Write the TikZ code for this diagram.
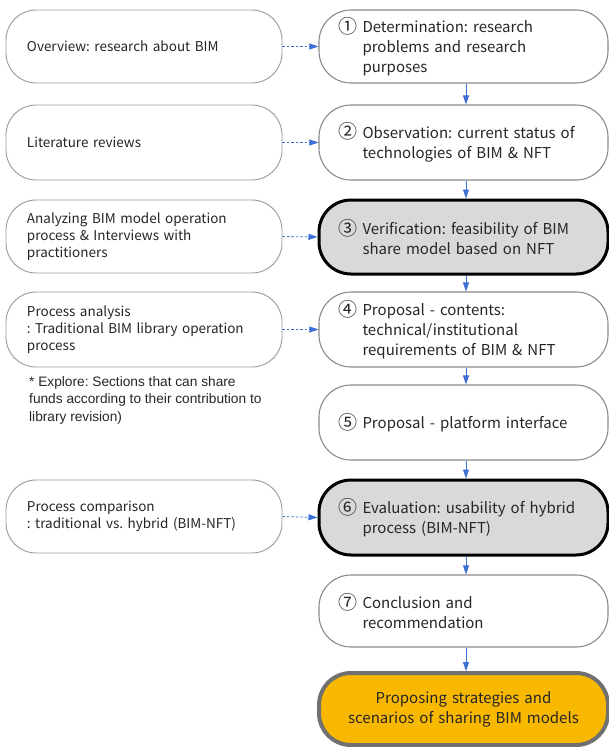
\documentclass[tikz,border=0pt]{standalone}
\usepackage{fontspec}
\setmainfont{Noto Sans CJK KR}
\newfontfamily\notefont{Liberation Sans}
\usetikzlibrary{arrows.meta}

\definecolor{linkblue}{HTML}{3D70D6}
\definecolor{boxgray}{HTML}{9A9A9A}
\definecolor{stepgray}{HTML}{8A8A8A}
\definecolor{keygray}{HTML}{D9D9D9}
\definecolor{gold}{HTML}{F9B800}
\definecolor{goalborder}{HTML}{707070}
\definecolor{textdark}{HTML}{262626}

% a numbered step: circled digit, then the text with its continuation lines aligned
\newcommand{\numstep}[2]{%
  \makebox[24pt][l]{\raisebox{-0.5pt}{\fontsize{19}{20}\selectfont #1}}%
  \parbox[t]{222pt}{\raggedright #2}}

\begin{document}
\frenchspacing
\begin{tikzpicture}[x=1pt,y=-1pt,
  methodbox/.style={draw=boxgray, line width=0.9pt, rounded corners=30pt,
    minimum height=73pt, text width=234pt, inner xsep=21pt, align=left,
    text=textdark, font=\fontsize{13.5}{17}\selectfont},
  stepbox/.style={draw=stepgray, line width=1.1pt, rounded corners=32pt,
    minimum height=75pt, text width=250pt, inner xsep=19.5pt, align=left,
    text=textdark, font=\fontsize{15}{20}\selectfont},
  keystep/.style={stepbox, draw=black, line width=3pt, fill=keygray},
  goalbox/.style={stepbox, draw=goalborder, line width=4pt, fill=gold,
    align=center, minimum height=72pt},
  flowdown/.style={draw=linkblue, line width=0.8pt,
    -{Triangle[length=9pt,width=6pt]}},
  feed/.style={draw=linkblue, line width=0.8pt, dash pattern=on 2.5pt off 2pt,
    -{Triangle[length=9pt,width=6pt]}}
]
\useasboundingbox (0,0) rectangle (609,747);
\fill[white] (0,0) rectangle (609,747);

% methods column
\node[methodbox] (m1) at (144,46.5) {Overview: research about BIM};
\node[methodbox, minimum height=75pt] (m2) at (144,142.5) {Literature reviews};
\node[methodbox] (m3) at (144,236.5) {Analyzing BIM model operation\\process \& Interviews with\\practitioners};
\node[methodbox, minimum height=75pt] (m4) at (144,329.5) {Process analysis\\: Traditional BIM library operation\\process};
\node[methodbox] (m6) at (144,516.5) {Process comparison\\: traditional vs. hybrid (BIM-NFT)};

\node[anchor=north west, inner sep=0pt, align=left, text=textdark,
  font=\notefont\fontsize{13.7}{17.5}\selectfont] (note) at (29,376)
  {* Explore: Sections that can share\\funds according to their contribution to\\library revision)};

% research steps column
\node[stepbox, minimum height=73pt] (s1) at (463.5,46.5) {\numstep{①}{Determination: research\\problems and research\\purposes}};
\node[stepbox] (s2) at (463.5,142.5) {\numstep{②}{Observation: current status of\\technologies of BIM \& NFT}};
\node[keystep, minimum height=74pt] (s3) at (463.5,237) {\numstep{③}{Verification: feasibility of BIM\\share model based on NFT}};
\node[stepbox] (s4) at (463.5,329.5) {\numstep{④}{Proposal - contents:\\technical/institutional\\requirements of BIM \& NFT}};
\node[stepbox] (s5) at (463.5,422.5) {\numstep{⑤}{Proposal - platform interface}};
\node[keystep] (s6) at (463.5,517.5) {\numstep{⑥}{Evaluation: usability of hybrid\\process (BIM-NFT)}};
\node[stepbox, minimum height=72pt] (s7) at (463.5,611) {\numstep{⑦}{Conclusion and\\recommendation}};
\node[goalbox] (goal) at (463.5,709) {Proposing strategies and\\scenarios of sharing BIM models};

% links from methods to steps
\draw[feed] (m1.east) -- (s1.west);
\draw[feed] (m2.east) -- (s2.west);
\draw[feed] (m3.east) -- (s3.west);
\draw[feed] (m4.east) -- (s4.west);
\draw[feed] (m6.east) -- (s6.west);

% sequence of steps
\draw[flowdown] ([xshift=2.5pt]s1.south) -- ([xshift=2.5pt]s2.north);
\draw[flowdown] ([xshift=2.5pt]s2.south) -- ([xshift=2.5pt]s3.north);
\draw[flowdown] ([xshift=2.5pt]s3.south) -- ([xshift=2.5pt]s4.north);
\draw[flowdown] ([xshift=2.5pt]s4.south) -- ([xshift=2.5pt]s5.north);
\draw[flowdown] ([xshift=2.5pt]s5.south) -- ([xshift=2.5pt]s6.north);
\draw[flowdown] ([xshift=2.5pt]s6.south) -- ([xshift=2.5pt]s7.north);
\draw[flowdown] ([xshift=2.5pt]s7.south) -- ([xshift=2.5pt]goal.north);
\end{tikzpicture}
\end{document}
